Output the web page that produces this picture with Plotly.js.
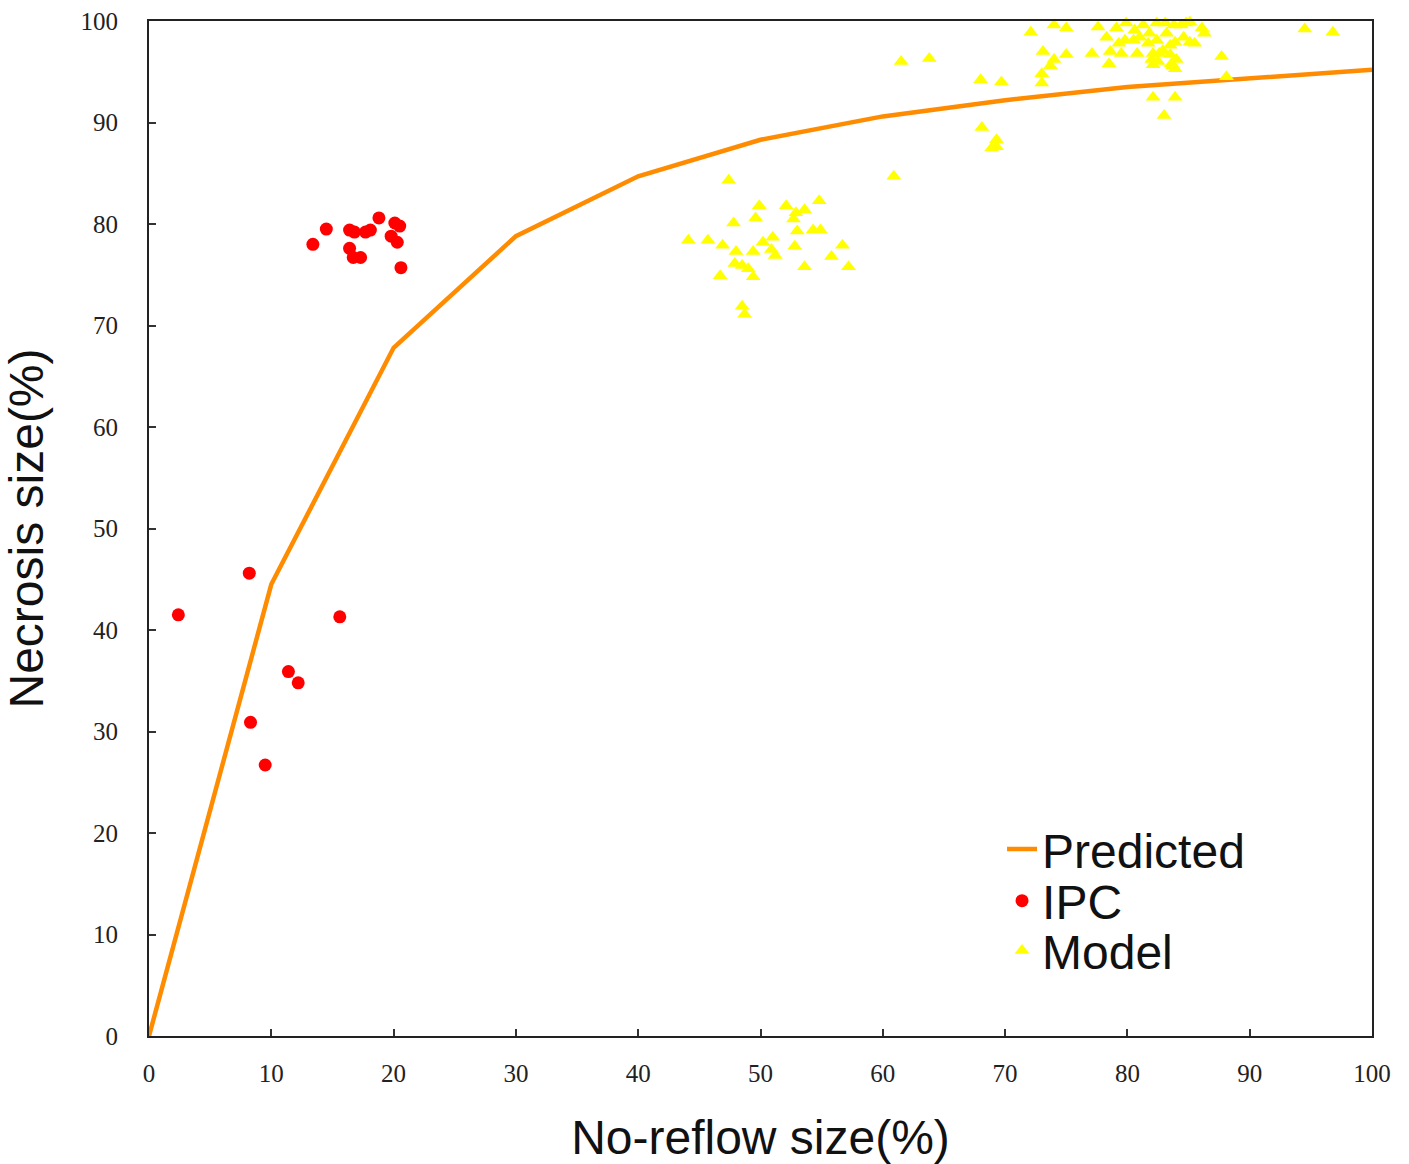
<!DOCTYPE html>
<html>
<head>
<meta charset="utf-8">
<script src="https://cdn.plot.ly/plotly-3.0.1.min.js"></script>
<style>
  html, body { margin: 0; padding: 0; background: #fff; }
  #chart { width: 1409px; height: 1164px; }
</style>
</head>
<body>
<div id="chart"></div>
<script>
// Predicted curve (no-reflow size vs necrosis size)
const predX = [0, 10, 20, 30, 40, 50, 60, 70, 80, 90, 100];
const predY = [0, 44.5, 67.8, 78.8, 84.7, 88.3, 90.6, 92.2, 93.5, 94.4, 95.2];

// IPC group
const ipcX = [2.4, 8.2, 8.3, 9.5, 11.4, 12.2, 15.6, 13.4, 14.5, 16.4, 16.8, 17.7, 18.1, 18.8, 20.1, 20.5, 19.8, 20.3, 16.4, 16.7, 17.3, 20.6];
const ipcY = [41.5, 45.6, 30.9, 26.7, 35.9, 34.8, 41.3, 78.0, 79.5, 79.4, 79.2, 79.2, 79.4, 80.6, 80.1, 79.8, 78.8, 78.2, 77.6, 76.7, 76.7, 75.7];

// Model group
const modelX = [
  47.4, 49.9, 49.6, 52.1, 52.9, 53.6, 54.8, 52.7, 53.0, 54.3, 54.9, 47.8, 44.1, 45.7, 46.9, 48.0, 49.4,
  50.2, 51.0, 50.9, 51.2, 52.8, 56.7, 55.8, 57.2, 53.6, 47.9, 48.5, 49.0, 49.4, 46.7, 48.5, 48.7,
  60.9, 61.5, 63.8, 68.0, 69.7, 68.1, 69.3, 68.9, 69.3, 72.1, 74.0, 75.0, 73.1, 74.0, 75.0, 73.7,
  73.0, 73.0, 77.6, 78.3, 77.1, 78.6, 78.5, 79.1, 79.9, 79.5, 79.3, 79.8, 80.8, 80.6, 80.5, 81.3,
  81.0, 81.7, 81.8, 82.4, 83.1, 83.8, 84.4, 84.8, 85.1, 86.1, 86.3, 82.4, 83.2, 83.9, 84.6, 82.1,
  82.6, 82.9, 83.5, 83.5, 85.1, 85.5, 82.0, 82.1, 82.5, 83.6, 83.7, 84.0, 83.9, 82.1, 83.9, 83.0,
  87.7, 88.1, 94.5, 96.8
];
const modelY = [
  84.3, 81.8, 80.6, 81.8, 81.1, 81.4, 82.3, 80.5, 79.3, 79.4, 79.4, 80.1, 78.4, 78.4, 77.9, 77.3, 77.3,
  78.2, 78.7, 77.5, 76.9, 77.8, 77.9, 76.8, 75.8, 75.8, 76.1, 75.9, 75.6, 74.8, 74.9, 71.9, 71.1,
  84.7, 96.0, 96.3, 94.2, 94.0, 89.5, 88.3, 87.5, 87.6, 98.9, 99.6, 99.3, 97.0, 96.2, 96.7, 95.6,
  94.8, 93.9, 99.4, 98.4, 96.8, 97.0, 95.8, 99.3, 99.8, 96.8, 97.8, 98.1, 96.8, 99.1, 98.1, 99.6,
  98.4, 97.8, 98.8, 99.8, 99.8, 99.6, 99.6, 99.8, 99.9, 99.3, 98.8, 98.1, 98.8, 97.9, 98.4, 96.8,
  96.8, 97.1, 96.7, 97.6, 97.9, 97.8, 96.2, 95.7, 96.0, 95.8, 95.6, 96.2, 95.3, 92.5, 92.5, 90.7,
  96.5, 94.5, 99.2, 98.9
];

const tickVals = [0, 10, 20, 30, 40, 50, 60, 70, 80, 90, 100];

const sansFont = 'Liberation Sans, Arial, sans-serif';
const serifFont = 'Liberation Serif, Times New Roman, serif';

const traces = [
  {
    x: predX, y: predY, name: 'Predicted', type: 'scatter', mode: 'lines', legend: 'legend',
    line: { color: '#FF8C00', width: 4.5 }, cliponaxis: false
  },
  {
    x: ipcX, y: ipcY, name: 'IPC', type: 'scatter', mode: 'markers', legend: 'legend2',
    marker: { color: '#FF0000', size: 13, symbol: 'circle' }, cliponaxis: false
  },
  {
    x: modelX, y: modelY, name: 'Model', type: 'scatter', mode: 'markers', legend: 'legend3',
    marker: { color: '#FFFF00', size: 13, symbol: 'triangle-up' }, cliponaxis: false
  }
];

const axisCommon = {
  range: [0, 100],
  tickvals: tickVals,
  ticks: 'inside',
  ticklen: 7,
  tickwidth: 2,
  tickcolor: '#333',
  showgrid: false,
  zeroline: false,
  showline: true,
  linecolor: '#222',
  linewidth: 2,
  mirror: true,
  tickfont: { family: serifFont, size: 25, color: '#222' }
};

// one legend box per entry so the rows sit at fixed heights
function legendAt(yPos) {
  return {
    x: 0.6975, y: yPos, xanchor: 'left', yanchor: 'middle',
    font: { family: sansFont, size: 48, color: '#111' },
    bgcolor: 'rgba(0,0,0,0)'
  };
}

const layout = {
  width: 1409,
  height: 1164,
  paper_bgcolor: '#fff',
  plot_bgcolor: '#fff',
  margin: { l: 149, r: 37, t: 21, b: 128 },
  showlegend: true,
  legend: legendAt(0.184),
  legend2: legendAt(0.133),
  legend3: legendAt(0.084),
  xaxis: Object.assign({}, axisCommon, {
    ticklabelstandoff: 14,
    title: { text: 'No-reflow size(%)', standoff: 38,
      font: { family: sansFont, size: 48, color: '#111' } }
  }),
  yaxis: Object.assign({}, axisCommon, {
    ticklabelstandoff: 24,
    title: { text: 'Necrosis size(%)', standoff: 30,
      font: { family: sansFont, size: 48, color: '#111' } }
  })
};

Plotly.newPlot('chart', traces, layout, { displayModeBar: false, staticPlot: true });
</script>
</body>
</html>
